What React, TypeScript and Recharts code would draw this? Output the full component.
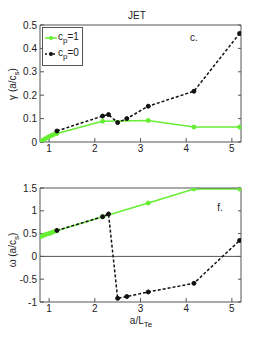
import React from 'react';
import { LineChart, Line, XAxis, YAxis, ReferenceLine } from 'recharts';

// a/L_Te scan, JET case
const xGreen = [0.8, 0.85, 0.9, 0.95, 1.0, 1.05, 1.1, 1.17, 2.17, 3.17, 4.17, 5.17];
const gammaGreen = [0, 0.006, 0.012, 0.018, 0.023, 0.028, 0.032, 0.036, 0.089, 0.092, 0.064, 0.064];
const omegaGreen = [0.43, 0.45, 0.47, 0.49, 0.5, 0.52, 0.54, 0.56, 0.87, 1.17, 1.48, 1.48];

const xBlack = [1.17, 2.17, 2.3, 2.5, 2.7, 3.17, 4.17, 5.17];
const gammaBlack = [0.047, 0.111, 0.117, 0.083, 0.1, 0.153, 0.217, 0.464];
const omegaBlack = [0.57, 0.87, 0.93, -0.92, -0.88, -0.78, -0.59, 0.35];

const xTicks = [1, 2, 3, 4, 5];
const gammaTicks = [0, 0.1, 0.2, 0.3, 0.4, 0.5];
const omegaTicks = [-1, -0.5, 0, 0.5, 1, 1.5];

const GREEN = '#66EE33';
const BLACK = '#111';
const AXIS = '#555';
const FONT = '"Liberation Sans", Arial, sans-serif';

const zip = (xs: number[], ys: number[]) => xs.map((x, i) => ({ x, y: ys[i] }));

const tickStyle = { fontSize: 10, fill: '#222', fontFamily: FONT };

// axes get 1px width/height (0 makes recharts skip drawing them)
const Panel = ({ green, black, yDomain, yTicks, height, margin, zero }: any) => (
  <LineChart width={266} height={height} margin={margin} style={{ overflow: 'visible' }}>
    <XAxis
      type="number"
      dataKey="x"
      domain={[0.8, 5.2]}
      allowDataOverflow
      ticks={xTicks}
      height={1}
      tickSize={-4}
      tickMargin={7}
      stroke={AXIS}
      tick={tickStyle}
    />
    <XAxis
      xAxisId="top"
      orientation="top"
      type="number"
      domain={[0.8, 5.2]}
      allowDataOverflow
      ticks={xTicks}
      height={1}
      tickSize={-3}
      tickFormatter={() => ''}
      stroke={AXIS}
    />
    <YAxis
      type="number"
      domain={yDomain}
      allowDataOverflow
      ticks={yTicks}
      width={1}
      tickSize={-4}
      tickMargin={7}
      stroke={AXIS}
      tick={tickStyle}
    />
    <YAxis
      yAxisId="right"
      orientation="right"
      type="number"
      domain={yDomain}
      allowDataOverflow
      ticks={yTicks}
      width={1}
      tickSize={-3}
      tickFormatter={() => ''}
      stroke={AXIS}
    />
    {zero && <ReferenceLine y={0} stroke={AXIS} strokeWidth={1} />}
    <Line
      data={green}
      dataKey="y"
      stroke={GREEN}
      strokeWidth={1.5}
      dot={{ r: 2, fill: GREEN, stroke: GREEN, strokeWidth: 1 }}
      isAnimationActive={false}
    />
    <Line
      data={black}
      dataKey="y"
      stroke={BLACK}
      strokeWidth={1.5}
      strokeDasharray="3 2"
      dot={{ r: 2, fill: BLACK, stroke: BLACK, strokeWidth: 1, strokeDasharray: '' }}
      isAnimationActive={false}
    />
  </LineChart>
);

const RotLabel = ({ x, y, children }: any) => (
  <div
    style={{
      position: 'absolute',
      left: x,
      top: y,
      transform: 'translate(-50%, -50%) rotate(-90deg)',
      whiteSpace: 'nowrap',
      fontSize: 10,
      lineHeight: '11px',
      color: '#222',
    }}
  >
    {children}
  </div>
);

const Sub = ({ children }: any) => (
  <sub style={{ fontSize: 8, verticalAlign: '-3px', lineHeight: 0 }}>{children}</sub>
);

const LegendBox = () => (
  <div
    style={{
      position: 'absolute',
      left: 42,
      top: 27,
      width: 39,
      height: 37,
      border: `1.5px solid ${AXIS}`,
      background: '#fff',
    }}
  >
    <svg width={39} height={37} style={{ position: 'absolute', left: 0, top: 0 }}>
      <line x1={2} x2={14} y1={10} y2={10} stroke={GREEN} strokeWidth={1.5} />
      <circle cx={8} cy={10} r={2} fill={GREEN} />
      <line x1={2} x2={14} y1={26} y2={26} stroke={BLACK} strokeWidth={1.5} strokeDasharray="2 2" />
      <circle cx={8} cy={26} r={2} fill={BLACK} />
    </svg>
    <div style={{ position: 'absolute', left: 15, top: 3, fontSize: 10, color: '#222', whiteSpace: 'nowrap' }}>
      c<Sub>p</Sub>=1
    </div>
    <div style={{ position: 'absolute', left: 15, top: 19, fontSize: 10, color: '#222', whiteSpace: 'nowrap' }}>
      c<Sub>p</Sub>=0
    </div>
  </div>
);

export default function App() {
  return (
    <div
      style={{
        position: 'absolute',
        left: 0,
        top: 0,
        width: 266,
        height: 340,
        background: '#fff',
        fontFamily: FONT,
      }}
    >
      <div style={{ position: 'absolute', left: 0, top: 0 }}>
        <Panel
          green={zip(xGreen, gammaGreen)}
          black={zip(xBlack, gammaBlack)}
          yDomain={[0, 0.5]}
          yTicks={gammaTicks}
          height={160}
          margin={{ top: 24, right: 24, bottom: 17, left: 39 }}
        />
      </div>
      <div style={{ position: 'absolute', left: 0, top: 160 }}>
        <Panel
          green={zip(xGreen, omegaGreen)}
          black={zip(xBlack, omegaBlack)}
          yDomain={[-1, 1.5]}
          yTicks={omegaTicks}
          height={180}
          margin={{ top: 27, right: 24, bottom: 37, left: 39 }}
          zero
        />
      </div>

      <div style={{ position: 'absolute', left: 137, top: 15, transform: 'translate(-50%, -50%)', fontSize: 10, color: '#222' }}>
        JET
      </div>
      <div style={{ position: 'absolute', left: 194, top: 37, transform: 'translate(-50%, -50%)', fontSize: 10, color: '#222' }}>
        c.
      </div>
      <div style={{ position: 'absolute', left: 220, top: 207, transform: 'translate(-50%, -50%)', fontSize: 10, color: '#222' }}>
        f.
      </div>

      <RotLabel x={12} y={84}>
        γ (a/c<Sub>s</Sub>)
      </RotLabel>
      <RotLabel x={12} y={250}>
        ω (a/c<Sub>s</Sub>)
      </RotLabel>
      <div
        style={{
          position: 'absolute',
          left: 141,
          top: 321,
          transform: 'translate(-50%, -50%)',
          fontSize: 10,
          lineHeight: '10px',
          color: '#222',
          whiteSpace: 'nowrap',
        }}
      >
        a/L<Sub>Te</Sub>
      </div>

      <LegendBox />
    </div>
  );
}
